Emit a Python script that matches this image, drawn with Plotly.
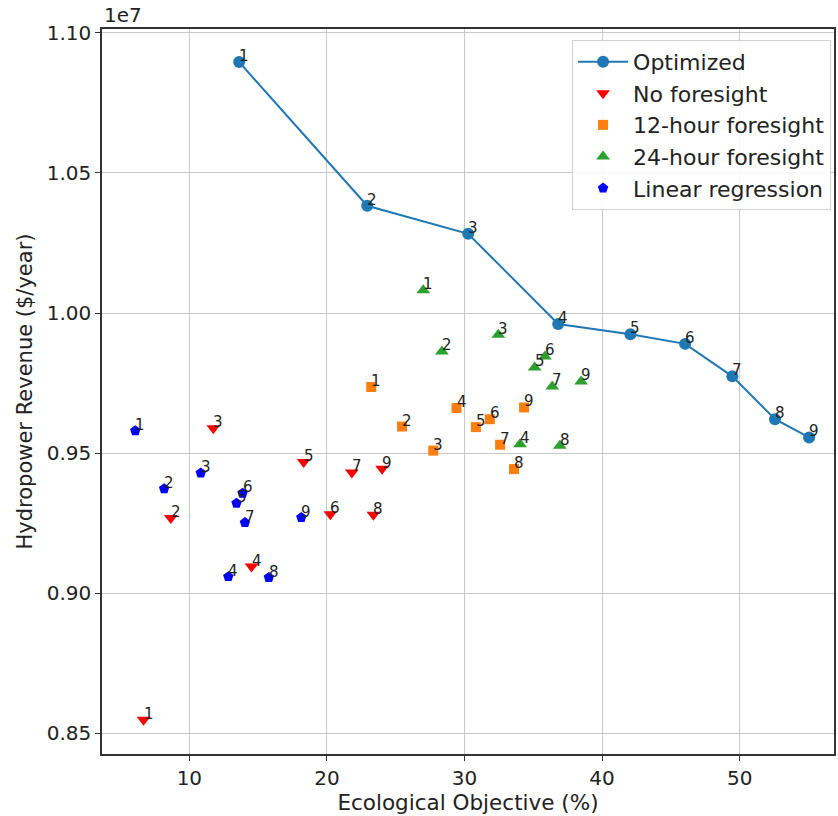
import plotly.graph_objects as go

# Ecological objective (%) and hydropower revenue (units of 1e7 $/year)
opt_x = [13.62, 22.93, 30.27, 36.81, 42.06, 46.04, 49.47, 52.57, 55.05]
opt_y = [1.0896, 1.0383, 1.0283, 0.9961, 0.9924, 0.9890, 0.9774, 0.9621, 0.9556]

nof_x = [6.67, 8.65, 11.74, 14.52, 18.31, 20.25, 21.81, 23.38, 24.01]
nof_y = [0.8548, 0.9268, 0.9589, 0.9095, 0.9468, 0.9282, 0.9431, 0.9280, 0.9444]

f12_x = [23.22, 25.46, 27.73, 29.42, 30.83, 31.84, 32.59, 33.60, 34.33]
f12_y = [0.9736, 0.9595, 0.9509, 0.9661, 0.9593, 0.9621, 0.9530, 0.9443, 0.9663]

f24_x = [27.00, 28.36, 32.46, 34.04, 35.10, 35.85, 36.38, 36.93, 38.48]
f24_y = [1.0081, 0.9863, 0.9923, 0.9532, 0.9806, 0.9845, 0.9738, 0.9526, 0.9756]

lin_x = [6.07, 8.17, 10.83, 12.83, 13.43, 13.87, 14.04, 15.78, 18.14]
lin_y = [0.9580, 0.9373, 0.9429, 0.9059, 0.9321, 0.9357, 0.9252, 0.9056, 0.9270]

point_labels = ["1", "2", "3", "4", "5", "6", "7", "8", "9"]

series = [
    ("Optimized", opt_x, opt_y, "#1f77b4", "circle", 12, "lines+markers"),
    ("No foresight", nof_x, nof_y, "#ff0000", "triangle-down", 12, "markers"),
    ("12-hour foresight", f12_x, f12_y, "#ff7f0e", "square", 10, "markers"),
    ("24-hour foresight", f24_x, f24_y, "#2ca02c", "triangle-up", 12, "markers"),
    ("Linear regression", lin_x, lin_y, "#0000ff", "pentagon", 11, "markers"),
]

fig = go.Figure()
annotations = []
for name, xs, ys, color, sym, size, mode in series:
    fig.add_trace(go.Scatter(
        x=xs, y=ys, name=name, mode=mode,
        line=dict(color=color, width=2),
        marker=dict(color=color, symbol=sym, size=size, line=dict(width=0)),
    ))
    for lx, ly, lt in zip(xs, ys, point_labels):
        annotations.append(dict(
            x=lx, y=ly, text=lt, showarrow=False, xref="x", yref="y",
            xanchor="left", yanchor="bottom", yshift=-5, xshift=-2,
            font=dict(size=15, color="#222222", family="DejaVu Sans"),
        ))

annotations.append(dict(
    x=0, y=1, xref="paper", yref="paper", text="1e7", showarrow=False,
    xanchor="left", yanchor="bottom", yshift=0,
    font=dict(size=20, color="#222222", family="DejaVu Sans"),
))

axis_common = dict(
    showline=True, mirror=True, linecolor="#333333", linewidth=1.5,
    ticks="outside", ticklen=5, tickcolor="#333333", tickwidth=1,
    showgrid=True, gridcolor="#c8c8c8", gridwidth=1, zeroline=False,
    tickfont=dict(size=20, color="#222222", family="DejaVu Sans"),
)

fig.update_layout(
    width=838, height=816,
    margin=dict(l=102, r=2, t=29, b=62),
    paper_bgcolor="white", plot_bgcolor="white",
    font=dict(family="DejaVu Sans", color="#222222"),
    xaxis=dict(range=[3.65, 56.86], tickvals=[10, 20, 30, 40, 50],
               title=dict(text="Ecological Objective (%)", font=dict(size=21.5), standoff=6),
               **axis_common),
    yaxis=dict(range=[0.8426, 1.1014], tickvals=[0.85, 0.90, 0.95, 1.00, 1.05, 1.10],
               tickformat=".2f",
               title=dict(text="Hydropower Revenue ($/year)", font=dict(size=21), standoff=8),
               **axis_common),
    legend=dict(x=0.996, y=0.985, xanchor="right", yanchor="top",
                bgcolor="rgba(255,255,255,0.85)", bordercolor="#d0d0d0", borderwidth=1,
                font=dict(size=22, color="#222222", family="DejaVu Sans"),
                itemwidth=50, tracegroupgap=0),
    annotations=annotations,
    showlegend=True,
)

fig.write_html("out.html")
